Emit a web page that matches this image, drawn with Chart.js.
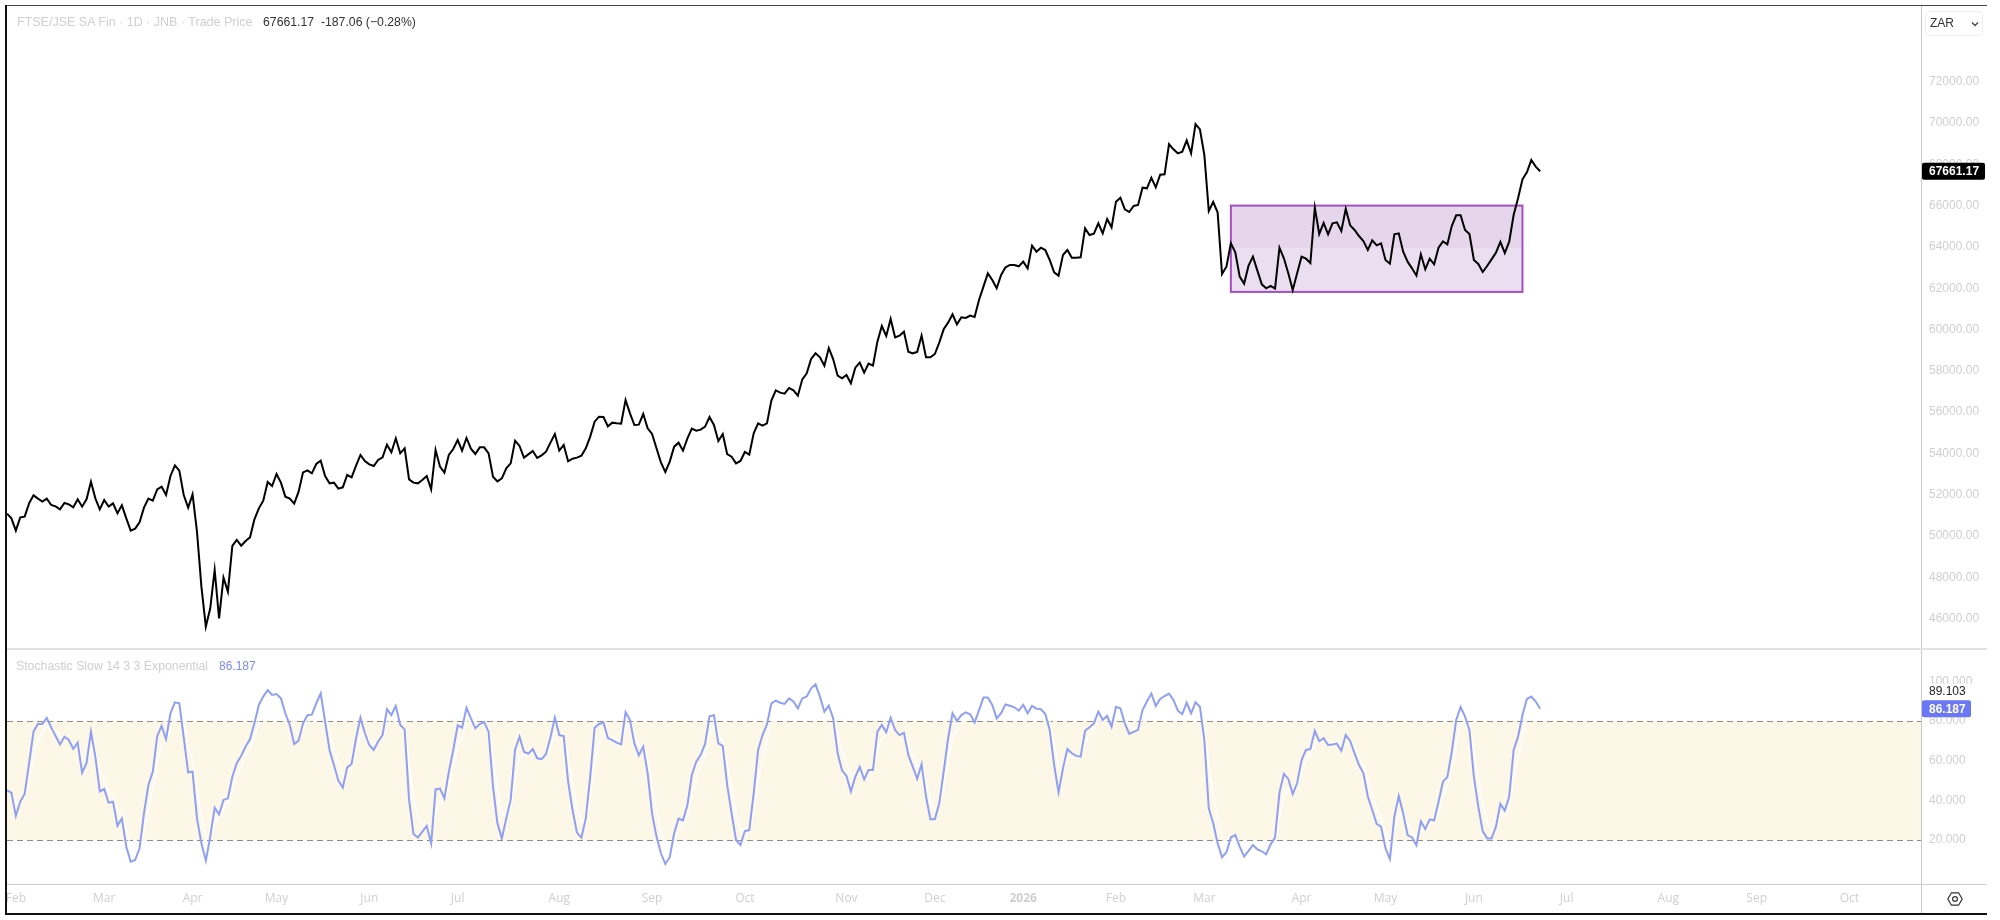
<!DOCTYPE html>
<html>
<head>
<meta charset="utf-8">
<title>FTSE/JSE SA Fin</title>
<script src="https://cdn.jsdelivr.net/npm/chart.js@4"></script>
<style>
  html, body { margin: 0; padding: 0; background: #fff; }
  body { width: 2000px; height: 920px; position: relative; overflow: hidden; font-family: "Liberation Sans", Arial, sans-serif; }
  canvas { position: absolute; left: 7px; }
  #priceCanvas { top: 6px; }
  #stochCanvas { top: 650px; }
  .frame-top { position: absolute; left: 6px; top: 5px; width: 1981px; height: 1px; background: #444; }
  .frame-left { position: absolute; left: 5px; top: 5px; width: 2px; height: 910px; background: #111; }
  .frame-bottom { position: absolute; left: 5px; top: 913px; width: 1982px; height: 2px; background: #111; }
  .axis-line { position: absolute; left: 1921px; top: 6px; width: 1px; height: 907px; background: #c8c8c8; }
  .pane-sep { position: absolute; left: 7px; top: 648px; width: 1980px; height: 2px; background: #e2e2e2; }
  .time-sep { position: absolute; left: 7px; top: 884px; width: 1980px; height: 1px; background: #cfcfcf; }
  .label { position: absolute; font-size: 12px; line-height: 14px; white-space: pre; }
  .muted { color: #cfcfcf; }
  .select { position: absolute; left: 1925px; top: 11px; width: 58px; height: 25px; border: 1px solid #eee; border-radius: 4px; box-sizing: border-box; font-size: 12px; line-height: 23px; color: #333; padding-left: 4px; }
  .select svg { position: absolute; right: 3px; top: 9px; }
  .gear { position: absolute; left: 1947px; top: 891px; }
</style>
</head>
<body>
<canvas id="priceCanvas" width="1980" height="642"></canvas>
<canvas id="stochCanvas" width="1980" height="263"></canvas>
<div class="frame-top"></div>
<div class="frame-left"></div>
<div class="frame-bottom"></div>
<div class="axis-line"></div>
<div class="pane-sep"></div>
<div class="time-sep"></div>
<div class="label muted" style="left:17px;top:15px;font-size:12.5px">FTSE/JSE SA Fin · 1D · JNB · Trade Price</div>
<div class="label" style="left:263px;top:15px;color:#333;font-size:12.25px">67661.17  -187.06 (−0.28%)</div>
<div class="label muted" style="left:16px;top:659px;font-size:12.3px">Stochastic Slow 14 3 3 Exponential</div>
<div class="label" style="left:219px;top:659px;color:#7c88f5">86.187</div>
<div class="select">ZAR<svg width="8" height="6" viewBox="0 0 8 6"><path d="M1 1.5 L4 4.5 L7 1.5" fill="none" stroke="#444" stroke-width="1.3"/></svg></div>
<svg class="gear" width="16" height="16" viewBox="0 0 16 16"><path d="M0.8 8 L4.4 1.8 L11.6 1.8 L15.2 8 L11.6 14.2 L4.4 14.2 Z" fill="none" stroke="#333" stroke-width="1.2"/><circle cx="8" cy="8" r="2.4" fill="none" stroke="#333" stroke-width="1.2"/></svg>

<script>
// Daily closes, oldest first
const priceValues = [
  51082, 50856, 50258, 50904, 50936, 51582, 51969, 51808, 51663, 51808,
  51501, 51437, 51291, 51598, 51534, 51388, 51776, 51421, 51776, 52631,
  51824, 51291, 51743, 51421, 51582, 51098, 51485, 50856, 50258, 50355,
  50662, 51372, 51808, 51711, 52260, 52389, 51986, 52906, 53422, 53164,
  51986, 51372, 52018, 50210, 47546, 45609, 46497, 48354, 46013, 47982,
  47304, 49516, 49806, 49532, 49758, 49935, 50807, 51340, 51711, 52615,
  52421, 53002, 52583, 51905, 51808, 51566, 52147, 53083, 53180, 53035,
  53487, 53648, 52906, 52550, 52583, 52292, 52357, 52954, 52841, 53406,
  53923, 53632, 53471, 53390, 53680, 53810, 54423, 54052, 54730, 54003,
  54245, 52744, 52583, 52550, 52712, 52906, 52260, 54165, 53358, 53067,
  53923, 54213, 54649, 54132, 54746, 54229, 53971, 54294, 54294, 54003,
  52873, 52647,
  52793, 53277, 53519, 54617, 54359, 53794, 53955, 54117, 53778, 53907,
  54084, 54520, 54940, 54133, 54407, 53616, 53745, 53794, 53891, 54246,
  54811, 55537, 55779, 55763, 55311, 55489, 55456, 55440, 56586, 55941,
  55376, 55392, 55908, 55214, 54940, 54246, 53568, 53100, 53600, 54327,
  54520, 54133, 54730, 55198, 55101, 55150, 55295, 55763, 55376, 54601,
  54940, 53971, 53842, 53519, 53632, 54068, 53939, 54972, 55456, 55343,
  55456, 56554, 57054, 56942, 56893, 57168, 57054, 56796, 57587, 57878,
  58572, 58846, 58653, 58249, 59105, 58556, 57765, 57636, 57797, 57393,
  58152, 58394, 57910, 58346, 58249, 59411, 60170, 59686, 60509, 59621,
  59702, 59896, 58927, 58846, 58911, 59702, 58653, 58653, 58814, 59363,
  60009, 60331, 60735, 60251, 60590, 60557, 60670, 60606, 61429,
  62074, 62720, 62397, 61994, 62639, 63011, 63124, 63124, 63059, 63285,
  62962, 64060, 63769, 63963, 63850, 63366, 62769, 62607, 63608, 63850,
  63479, 63479, 63495, 64899, 64576, 64641, 65141, 64657, 65351, 64948,
  66191, 66384, 65819, 65690, 65981, 66029, 66869, 66836, 67353, 66885,
  67498, 67514, 68983, 68725, 68531, 68612, 69161, 68531, 69952, 69694,
  68451,
  65739, 66175, 65674, 62688, 63043, 64173, 63737, 62559, 62220, 63091,
  63527, 62849, 62187, 61994, 62107, 61978, 63963, 63447, 62720, 61913,
  62720, 63527, 63430, 63221, 65900, 64625, 65158, 64609, 65141, 65190,
  64770, 65836, 65045, 64819, 64528, 64286, 63850, 64318, 64076, 64173,
  63366, 63188, 64609, 64657, 63769, 63285, 62962, 62607, 63640, 62914,
  63430, 63156, 63963, 64270, 64125, 65012, 65529, 65529, 64819, 64625,
  63366, 63172, 62785, 63075, 63398, 63721, 64238, 63705, 64254, 65545,
  66352, 67272, 67611, 68208, 67886, 67661.17,
];

// Stochastic %K
const stochK = [
  45.0, 43.9, 32.1, 39.3, 43.2, 58.7, 74.6, 78.5, 78.5, 81.5,
  76.8, 72.4, 68.2, 72.1, 70.4, 66.0, 69.1, 53.9, 58.7, 74.6,
  62.0, 44.5, 45.7, 38.8, 39.3, 27.2, 30.9, 16.6, 9.1, 9.9,
  15.8, 33.4, 47.7, 54.5, 72.4, 77.5, 70.8, 83.9, 89.4, 88.9,
  71.8, 54.1, 54.5, 30.9, 18.3, 9.6, 21.7, 36.3, 32.9, 40.2,
  41.0, 51.9, 58.7, 62.4, 67.1, 70.8, 78.8, 88.1, 92.3, 95.6,
  93.1, 93.6, 91.4, 83.9, 78.0, 68.4, 70.1, 78.8, 82.9, 83.2,
  88.9, 94.0, 79.7, 65.4, 57.8, 49.9, 46.4, 56.6, 58.3, 71.3,
  81.7, 73.8, 67.9, 65.4, 69.6, 72.9, 85.9, 83.0, 87.6, 78.0,
  75.8, 40.2, 23.0, 21.2, 24.2, 27.1, 18.3, 45.5, 45.9, 41.0,
  54.5, 65.4, 77.8, 76.6, 86.7, 81.3, 76.3, 78.5, 79.5, 74.6,
  46.9, 28.4,
  20.8, 30.9, 40.2, 65.7, 72.1, 64.5, 63.5, 65.9, 61.2, 60.8,
  63.4, 71.8, 81.7, 72.9, 72.4, 49.4, 35.1, 23.7, 21.2, 30.9,
  51.9, 76.6, 78.5, 79.2, 71.4, 70.4, 69.1, 68.2, 84.5, 80.5,
  68.7, 62.7, 67.1, 53.6, 33.4, 21.7, 13.3, 7.9, 11.3, 23.4,
  30.8, 29.9, 37.6, 52.8, 59.5, 62.9, 68.4, 82.4, 82.9, 68.7,
  67.4, 47.7, 33.4, 20.0, 17.5, 24.5, 25.0, 43.5, 65.4, 72.9,
  78.3, 88.9, 90.3, 89.2, 88.6, 91.4, 89.8, 86.4, 91.4, 92.4,
  96.5, 98.5, 92.3, 84.7, 87.7, 81.3, 63.7, 55.0, 52.3, 44.4,
  51.9, 56.8, 50.6, 55.3, 55.3, 74.6, 78.0, 74.3, 81.7, 75.5,
  72.9, 74.1, 62.9, 57.0, 50.8, 58.2, 41.9, 30.4, 30.4, 38.5,
  54.5, 71.3, 83.9, 80.0, 83.0, 84.4, 83.4, 79.2, 85.5,
  91.8, 91.8, 88.1, 81.3, 83.9,
  88.4, 87.7, 86.9, 85.2, 88.1, 83.9, 87.6, 86.2, 86.0, 83.5,
  75.5, 57.8, 44.0, 56.1, 65.9, 63.7, 62.4, 62.0, 75.1, 76.8,
  78.8, 84.7, 80.5, 82.5, 77.1, 87.2, 86.4, 78.8, 73.5, 74.5,
  75.5, 85.5, 89.8, 93.8, 87.6, 91.1, 92.6, 93.8, 90.6, 85.2,
  83.5, 89.2, 83.9, 89.4, 87.2, 70.4, 36.0, 28.4, 18.3, 11.3,
  13.8, 21.3, 22.5, 16.6, 11.6, 14.5, 17.5, 15.3, 14.3, 12.8,
  17.8, 21.2, 43.9, 53.3, 50.8, 43.2, 48.6, 60.3, 65.4, 65.9,
  75.0, 69.8, 71.3, 67.9, 68.2, 68.6, 65.0, 72.9, 69.9, 63.7,
  57.8, 53.6, 41.9, 35.1, 28.1, 26.7, 15.8, 10.3, 31.8, 42.2,
  33.4, 22.5, 21.3, 17.3, 29.4, 25.5, 30.4, 29.8, 39.3, 49.4,
  51.8, 64.5, 80.5, 87.1, 82.2, 75.5, 51.9, 36.8, 24.5, 20.8,
  20.8, 26.7, 38.2, 34.8, 41.9, 65.4, 72.1, 83.0, 91.1, 92.3,
  89.8, 86.187,
];

// Stochastic %D, the pale signal line
const stochD = [
  45, 44, 38, 39, 41, 50, 62, 70, 74, 78,
  77, 75, 72, 72, 71, 68, 69, 61, 60, 67,
  65, 55, 50, 44, 42, 35, 33, 25, 17, 13,
  14, 24, 36, 45, 59, 68, 69, 76, 83, 86,
  79, 67, 61, 46, 32, 21, 21, 29, 31, 36,
  38, 45, 52, 57, 62, 66, 72, 80, 86, 91,
  92, 93, 92, 88, 83, 76, 73, 76, 79, 81,
  85, 90, 85, 75, 66, 58, 52, 54, 56, 64,
  73, 73, 70, 68, 69, 71, 78, 81, 84, 81,
  78, 59, 41, 31, 28, 27, 23, 34, 40, 40,
  47, 56, 67, 72, 79, 80, 78, 78, 79, 77,
  62, 45,
  33, 32, 36, 51, 62, 63, 63, 64, 63, 62,
  63, 67, 74, 74, 73, 61, 48, 36, 29, 30,
  41, 59, 69, 74, 73, 72, 71, 69, 77, 79,
  74, 68, 68, 61, 47, 34, 24, 16, 14, 19,
  25, 27, 32, 43, 51, 57, 63, 73, 78, 73,
  70, 59, 46, 33, 25, 25, 25, 34, 50, 61,
  70, 79, 85, 87, 88, 90, 90, 88, 90, 91,
  94, 96, 94, 89, 88, 85, 74, 65, 59, 52,
  52, 54, 52, 54, 55, 65, 71, 73, 77, 76,
  74, 74, 68, 63, 57, 58, 50, 40, 35, 37,
  46, 59, 71, 76, 79, 82, 83, 81, 83,
  87, 89, 89, 85, 84,
  86, 87, 87, 86, 87, 85, 86, 86, 86, 85,
  80, 69, 57, 56, 61, 62, 62, 62, 69, 73,
  76, 80, 80, 81, 79, 83, 85, 82, 78, 76,
  76, 81, 85, 89, 88, 90, 91, 92, 91, 88,
  86, 88, 86, 88, 87, 79, 57, 43, 31, 21,
  17, 19, 21, 19, 15, 15, 16, 16, 15, 14,
  16, 19, 31, 42, 46, 45, 47, 54, 60, 63,
  69, 69, 70, 69, 69, 69, 67, 70, 70, 67,
  62, 58, 50, 43, 35, 31, 23, 17, 24, 33,
  33, 28, 25, 21, 25, 25, 28, 29, 34, 42,
  47, 56, 68, 78, 80, 78, 65, 51, 38, 29,
  25, 26, 32, 33, 37, 51, 62, 72, 82, 87,
  88, 89.103,
];

const monthLabels = ['Feb', 'Mar', 'Apr', 'May', 'Jun', 'Jul', 'Aug', 'Sep', 'Oct', 'Nov', 'Dec', '2026', 'Feb', 'Mar', 'Apr', 'May', 'Jun', 'Jul', 'Aug', 'Sep', 'Oct'];
// bar index each month label sits on
const monthBars = [2, 22, 42, 61, 82, 102, 125, 146, 167, 190, 210, 230, 251, 271, 293, 312, 332, 353, 376, 396, 417];

const priceTicks = [46000, 48000, 50000, 52000, 54000, 56000, 58000, 60000, 62000, 64000, 66000, 68000, 70000, 72000];
const stochTicks = [20, 40, 60, 80, 100];
const stochBand = [20, 80];
// consolidation box, in bars and price
const rangeBars = [277, 343];
const rangePrices = [61820, 66000];

const barCount = priceValues.length;
const lastBar = 433.2; // empty space to the right of the latest bar
const TICK_COLOR = '#cfcfcf';
const FONT_FAMILY = '"Liberation Sans", Arial, sans-serif';

const toPoints = (values) => values.map((y, x) => ({ x, y }));

// keep the plot area flush with the canvas edges
function fitValueAxis(scale) {
  scale.width = 66;
  scale.paddingTop = 0;
  scale.paddingBottom = 0;
}

function fitTimeAxis(scale) {
  scale.height = 29;
  scale.paddingLeft = 0;
  scale.paddingRight = 0;
}

const rangeBoxPlugin = {
  id: 'rangeBox',
  beforeDatasetsDraw(chart) {
    const { ctx, scales } = chart;
    const x0 = scales.x.getPixelForValue(rangeBars[0]);
    const x1 = scales.x.getPixelForValue(rangeBars[1]);
    const y0 = scales.y.getPixelForValue(rangePrices[1]);
    const y1 = scales.y.getPixelForValue(rangePrices[0]);
    const mid = (y0 + y1) / 2;
    ctx.save();
    ctx.fillStyle = '#e6d6ec';
    ctx.fillRect(x0, y0, x1 - x0, mid - y0);
    ctx.fillStyle = '#ecdef1';
    ctx.fillRect(x0, mid, x1 - x0, y1 - mid);
    ctx.strokeStyle = '#a34fc2';
    ctx.lineWidth = 2;
    ctx.strokeRect(x0, y0, x1 - x0, y1 - y0);
    ctx.restore();
  },
};

const bandPlugin = {
  id: 'stochBand',
  beforeDatasetsDraw(chart) {
    const { ctx, chartArea, scales } = chart;
    const top = scales.y.getPixelForValue(stochBand[1]);
    const bottom = scales.y.getPixelForValue(stochBand[0]);
    ctx.save();
    ctx.fillStyle = '#fdf7e8';
    ctx.fillRect(chartArea.left, top, chartArea.width, bottom - top);
    ctx.strokeStyle = '#8a8a8a';
    ctx.lineWidth = 1;
    ctx.setLineDash([6, 4]);
    [top, bottom].forEach((y) => {
      ctx.beginPath();
      ctx.moveTo(chartArea.left, Math.round(y) + 0.5);
      ctx.lineTo(chartArea.right, Math.round(y) + 0.5);
      ctx.stroke();
    });
    ctx.restore();
  },
};

// value flag sitting on the price scale
function drawFlag(chart, value, text, width, background) {
  const { ctx, chartArea, scales } = chart;
  const y = scales.y.getPixelForValue(value);
  ctx.save();
  ctx.fillStyle = background;
  ctx.beginPath();
  ctx.roundRect(chartArea.right + 1, y - 8.5, width, 17, 2);
  ctx.fill();
  ctx.fillStyle = '#fff';
  ctx.font = 'bold 12px ' + FONT_FAMILY;
  ctx.textBaseline = 'middle';
  ctx.fillText(text, chartArea.right + 8, y + 0.5);
  ctx.restore();
}

const priceFlagPlugin = {
  id: 'priceFlag',
  afterDraw(chart) {
    drawFlag(chart, priceValues[barCount - 1], priceValues[barCount - 1].toFixed(2), 63, '#000');
  },
};

const stochFlagPlugin = {
  id: 'stochFlag',
  afterDraw(chart) {
    const { ctx, chartArea, scales } = chart;
    const k = stochK[barCount - 1];
    const d = stochD[barCount - 1];
    const y = scales.y.getPixelForValue(k);
    // %D sits just above the %K flag, over the 100 tick
    ctx.save();
    ctx.fillStyle = '#fff';
    ctx.fillRect(chartArea.right + 1, y - 25, 60, 16);
    ctx.fillStyle = '#222';
    ctx.font = '12px ' + FONT_FAMILY;
    ctx.textBaseline = 'middle';
    ctx.fillText(d.toFixed(3), chartArea.right + 8, y - 17);
    ctx.restore();
    drawFlag(chart, k, k.toFixed(3), 49, '#6a78f5');
  },
};

const priceChart = new Chart(document.getElementById('priceCanvas'), {
  type: 'line',
  data: {
    datasets: [
      { data: toPoints(priceValues), borderColor: '#000', borderWidth: 2, pointRadius: 0, tension: 0 },
    ],
  },
  options: {
    responsive: false,
    animation: false,
    devicePixelRatio: 1,
    layout: { padding: 0, autoPadding: false },
    plugins: { legend: { display: false }, tooltip: { enabled: false } },
    scales: {
      x: { type: 'linear', display: false, min: 0, max: lastBar },
      y: {
        position: 'right',
        min: 44576,
        max: 75666,
        grid: { display: false, drawTicks: false },
        border: { display: false },
        afterFit: fitValueAxis,
        afterBuildTicks: (scale) => { scale.ticks = priceTicks.map((value) => ({ value })); },
        ticks: {
          color: TICK_COLOR,
          font: { family: FONT_FAMILY, size: 12 },
          padding: 8,
          callback: (v) => v.toFixed(2),
        },
      },
    },
  },
  plugins: [rangeBoxPlugin, priceFlagPlugin],
});

const stochChart = new Chart(document.getElementById('stochCanvas'), {
  type: 'line',
  data: {
    datasets: [
      { data: toPoints(stochK), borderColor: '#8f9ff2', borderWidth: 2, pointRadius: 0, tension: 0 },
      { data: toPoints(stochD), borderColor: '#ffffff', borderWidth: 1.5, pointRadius: 0, tension: 0 },
    ],
  },
  options: {
    responsive: false,
    animation: false,
    devicePixelRatio: 1,
    layout: { padding: 0, autoPadding: false },
    plugins: { legend: { display: false }, tooltip: { enabled: false } },
    scales: {
      x: {
        type: 'linear',
        min: 0,
        max: lastBar,
        grid: { display: false, drawTicks: false },
        border: { display: false },
        afterFit: fitTimeAxis,
        afterBuildTicks: (scale) => { scale.ticks = monthBars.map((value) => ({ value })); },
        ticks: {
          color: TICK_COLOR,
          autoSkip: false,
          maxRotation: 0,
          padding: 7,
          font: (ctx) => ({
            family: '"Open Sans", ' + FONT_FAMILY,
            size: 12,
            weight: monthLabels[monthBars.indexOf(ctx.tick?.value)] === '2026' ? 'bold' : 'normal',
          }),
          callback: (v) => monthLabels[monthBars.indexOf(v)],
        },
      },
      y: {
        position: 'right',
        min: -2.2,
        max: 115.8,
        grid: { display: false, drawTicks: false },
        border: { display: false },
        afterFit: fitValueAxis,
        afterBuildTicks: (scale) => { scale.ticks = stochTicks.map((value) => ({ value })); },
        ticks: {
          color: TICK_COLOR,
          font: { family: FONT_FAMILY, size: 12 },
          padding: 8,
          callback: (v) => v.toFixed(3),
        },
      },
    },
  },
  plugins: [bandPlugin, stochFlagPlugin],
});
</script>
</body>
</html>
